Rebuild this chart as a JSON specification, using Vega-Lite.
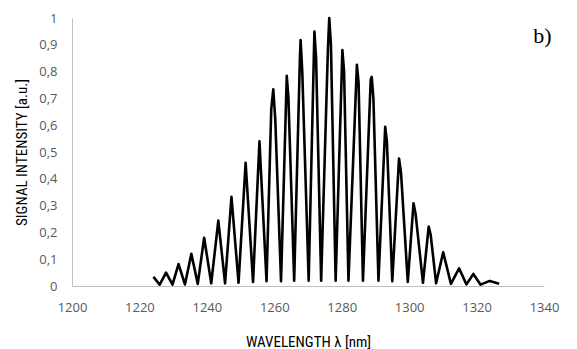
{
  "$schema": "https://vega.github.io/schema/vega-lite/v6.json",
  "width": 472,
  "height": 268,
  "autosize": "none",
  "padding": {"left": 72, "top": 18, "right": 33, "bottom": 63},
  "background": "white",
  "config": {
    "view": {"stroke": null},
    "axis": {"grid": false, "ticks": false, "domainColor": "#bfbfbf", "domainWidth": 1, "labelColor": "#595959", "labelFont": "Open Sans", "labelFontSize": 13, "labelOverlap": false, "titleFont": "Roboto Condensed, Liberation Sans Narrow, Roboto", "titleFontWeight": "normal", "titleFontSize": 15, "titleColor": "#000000"}
  },
  "layer": [
    {
      "data": {"values": [
        {"wl": 1224.15, "sig": 0.034},
        {"wl": 1226.0, "sig": 0.005},
        {"wl": 1227.9, "sig": 0.05},
        {"wl": 1229.8, "sig": 0.005},
        {"wl": 1231.6, "sig": 0.082},
        {"wl": 1233.5, "sig": 0.006},
        {"wl": 1235.4, "sig": 0.12},
        {"wl": 1237.3, "sig": 0.008},
        {"wl": 1239.2, "sig": 0.18},
        {"wl": 1241.3, "sig": 0.01},
        {"wl": 1243.4, "sig": 0.244},
        {"wl": 1245.4, "sig": 0.01},
        {"wl": 1247.3, "sig": 0.333},
        {"wl": 1249.4, "sig": 0.012},
        {"wl": 1251.5, "sig": 0.46},
        {"wl": 1253.7, "sig": 0.015},
        {"wl": 1255.6, "sig": 0.54},
        {"wl": 1257.7, "sig": 0.018},
        {"wl": 1259.1, "sig": 0.66},
        {"wl": 1259.7, "sig": 0.734},
        {"wl": 1260.3, "sig": 0.62},
        {"wl": 1262.0, "sig": 0.018},
        {"wl": 1263.7, "sig": 0.784},
        {"wl": 1264.2, "sig": 0.7},
        {"wl": 1265.9, "sig": 0.02},
        {"wl": 1267.6, "sig": 0.85},
        {"wl": 1267.8, "sig": 0.918},
        {"wl": 1268.3, "sig": 0.8},
        {"wl": 1270.2, "sig": 0.02},
        {"wl": 1271.9, "sig": 0.949},
        {"wl": 1272.4, "sig": 0.85},
        {"wl": 1273.9, "sig": 0.02},
        {"wl": 1275.9, "sig": 0.88},
        {"wl": 1276.3, "sig": 1.0},
        {"wl": 1276.8, "sig": 0.9},
        {"wl": 1278.2, "sig": 0.02},
        {"wl": 1280.2, "sig": 0.88},
        {"wl": 1280.7, "sig": 0.8},
        {"wl": 1282.0, "sig": 0.02},
        {"wl": 1284.5, "sig": 0.825},
        {"wl": 1285.0, "sig": 0.76},
        {"wl": 1286.3, "sig": 0.02},
        {"wl": 1288.6, "sig": 0.77},
        {"wl": 1288.9, "sig": 0.78},
        {"wl": 1289.4, "sig": 0.7},
        {"wl": 1290.9, "sig": 0.02},
        {"wl": 1292.9, "sig": 0.594},
        {"wl": 1293.4, "sig": 0.54},
        {"wl": 1295.0, "sig": 0.018},
        {"wl": 1297.0, "sig": 0.476},
        {"wl": 1297.6, "sig": 0.42},
        {"wl": 1299.6, "sig": 0.015},
        {"wl": 1301.3, "sig": 0.309},
        {"wl": 1301.9, "sig": 0.27},
        {"wl": 1304.1, "sig": 0.012},
        {"wl": 1305.8, "sig": 0.222},
        {"wl": 1306.4, "sig": 0.19},
        {"wl": 1308.0, "sig": 0.01},
        {"wl": 1310.1, "sig": 0.126},
        {"wl": 1312.4, "sig": 0.008},
        {"wl": 1314.8, "sig": 0.066},
        {"wl": 1317.0, "sig": 0.006},
        {"wl": 1319.05, "sig": 0.045},
        {"wl": 1321.2, "sig": 0.005},
        {"wl": 1323.9, "sig": 0.019},
        {"wl": 1326.7, "sig": 0.008}
      ]},
      "mark": {"type": "line", "color": "#000000", "strokeWidth": 2.6, "strokeJoin": "round", "interpolate": "linear"},
      "encoding": {
        "x": {"field": "wl", "type": "quantitative", "scale": {"domain": [1200, 1340], "nice": false, "zero": false},
          "axis": {"values": [1200, 1220, 1240, 1260, 1280, 1300, 1320, 1340], "format": "d", "title": "WAVELENGTH λ [nm]", "labelPadding": 15, "titlePadding": 20, "labelFlush": false}},
        "y": {"field": "sig", "type": "quantitative", "scale": {"domain": [0, 1], "nice": false},
          "axis": {"values": [0, 0.1, 0.2, 0.3, 0.4, 0.5, 0.6, 0.7, 0.8, 0.9, 1], "tickCount": 11, "labelOverlap": false, "labelExpr": "replace(format(datum.value, '.1~f'), '.', ',')", "title": "SIGNAL INTENSITY [a.u.]", "labelPadding": 15, "titlePadding": 9, "labelFlush": false}}
      }
    },
    {
      "data": {"values": [{"note": "b)"}]},
      "mark": {"type": "text", "font": "Liberation Serif", "fontSize": 22, "color": "#000000", "align": "center", "baseline": "alphabetic"},
      "encoding": {
        "text": {"field": "note"},
        "x": {"datum": 1339.5, "type": "quantitative"},
        "y": {"datum": 0.905, "type": "quantitative"}
      }
    }
  ]
}
